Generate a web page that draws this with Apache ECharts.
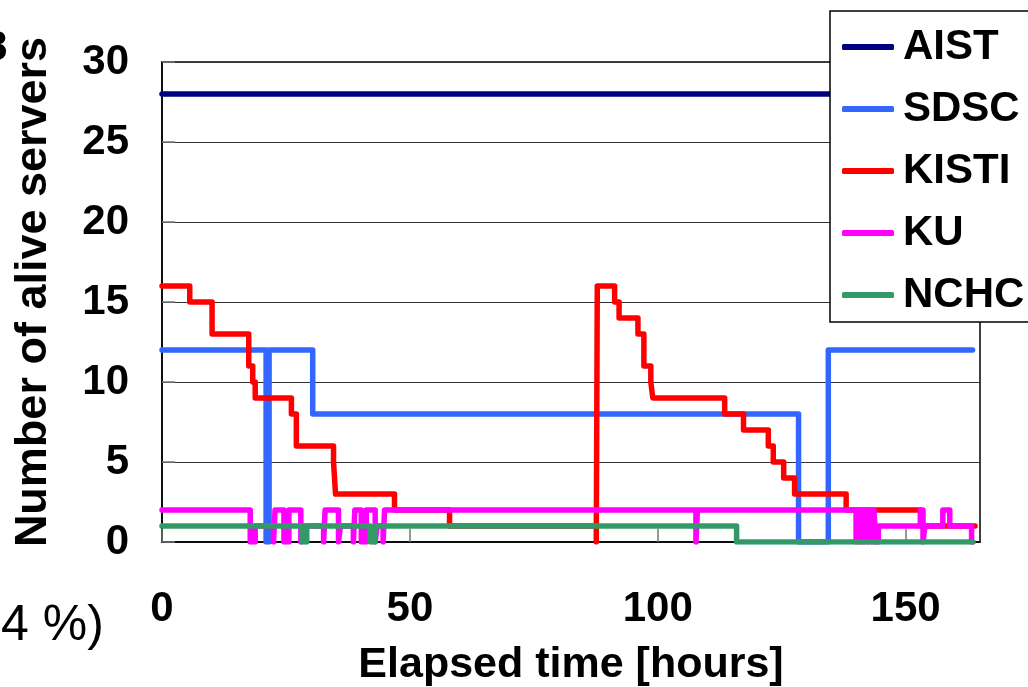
<!DOCTYPE html>
<html>
<head>
<meta charset="utf-8">
<script src="https://cdn.jsdelivr.net/npm/echarts@6/dist/echarts.min.js"></script>
<style>
html,body{margin:0;padding:0;background:#fff;}
#chart{width:1028px;height:687px;}
</style>
</head>
<body>
<div id="chart"></div>
<script>
// [elapsed hours, alive servers] change points (value holds until next point)
const AIST  = [[0,28],[164,28]];
const SDSC  = [[0,12],[21.0,0],[21.6,12],[30.4,8],[128.4,0],[134.4,12],[163.5,12]];
const KISTI = [[0,16],[5.6,15],[10.1,13],[17.5,11],[18.3,10],[18.8,9],[26.1,8],[27.1,6],[34.6,5],[35.0,3],[46.9,2],[58.0,1],[87.6,0],[87.8,16],[91.3,15],[92.2,14],[96.0,13],[97.2,11],[98.6,10],[99.0,9],[113.5,8],[117.3,7],[122.3,6],[123.3,5],[125.4,4],[127.6,3],[138.0,2],[153.0,1],[164.0,1]];
const KU    = [[0,2],[17.8,0],[18.8,1],[22.5,0],[22.8,2],[24.6,0],[25.6,2],[28.0,0],[28.4,1],[32.6,0],[32.9,2],[35.6,0],[36.0,1],[38.6,0],[38.9,2],[40.2,0],[41.2,2],[43.0,0],[43.4,1],[44.6,0],[44.9,2],[107.7,0],[108.0,2],[140.0,0],[140.4,2],[140.8,0],[141.2,2],[141.6,0],[142.0,2],[142.4,0],[142.8,2],[143.2,0],[143.6,2],[144.0,0],[144.5,1],[153.0,2],[153.5,0],[153.9,1],[157.5,2],[158.9,1],[163.3,0],[163.6,0]];
const NCHC  = [[0,1],[28.2,0],[29.2,1],[42.0,0],[43.0,1],[115.9,0],[163.5,0]];

const seriesNames = ['AIST','SDSC','KISTI','KU','NCHC'];
const seriesData = [AIST, SDSC, KISTI, KU, NCHC];
const colors = ['#000080','#3366FF','#FF0000','#FF00FF','#339966'];
const xTicks = [0,50,100,150];
const yTicks = [0,5,10,15,20,25,30];
const yTitle = 'Number of alive servers';
const xTitle = 'Elapsed time [hours]';

const FONT = '"Liberation Sans", Arial, sans-serif';

const chart = echarts.init(document.getElementById('chart'), null, {renderer:'canvas'});
chart.setOption({
  animation: false,
  backgroundColor: '#fff',
  color: colors,
  grid: {left:162, right:48, top:62, bottom:145, outerBoundsMode:'none', containLabel:false,
         show:true, borderColor:'#000', borderWidth:1.5, backgroundColor:'transparent'},
  xAxis: {
    type:'value', min:0, max:165, interval:50,
    name:xTitle, nameLocation:'middle', nameGap:102,
    nameTextStyle:{fontFamily:FONT, fontWeight:'bold', fontSize:43, color:'#000'},
    axisLine:{show:true, lineStyle:{color:'#000', width:1.5}},
    axisTick:{show:true, inside:true, length:13, lineStyle:{color:'#777', width:1.5}},
    axisLabel:{margin:46, fontFamily:FONT, fontWeight:'bold', fontSize:42, color:'#000', showMaxLabel:false,
      formatter: v => xTicks.includes(v) ? String(v) : ''},
    splitLine:{show:false}
  },
  yAxis: {
    type:'value', min:0, max:30, interval:5,
    axisLine:{show:true, lineStyle:{color:'#000', width:1.5}},
    axisTick:{show:true, inside:true, length:13, lineStyle:{color:'#777', width:1.5}},
    axisLabel:{margin:33, fontFamily:FONT, fontWeight:'bold', fontSize:42, color:'#000',
      formatter: v => yTicks.includes(v) ? String(v) : ''},
    splitLine:{show:true, lineStyle:{color:'#333', width:1}}
  },
  legend: {
    left:830, top:11, orient:'vertical',
    data: seriesNames,
    icon:'roundRect',
    backgroundColor:'#fff', borderColor:'#000', borderWidth:1.5,
    padding:[11,60,2,12], itemGap:12,
    itemWidth:52, itemHeight:6,
    textStyle:{fontFamily:FONT, fontWeight:'bold', fontSize:42, color:'#000', lineHeight:50, padding:[0,0,0,4]}
  },
  graphic: [
    {type:'text', x:34, y:292, rotation:Math.PI/2,
     style:{text:yTitle, font:'bold 45px '+FONT, fill:'#000', align:'center', verticalAlign:'middle'}},
    {type:'text', left:-16, top:27, style:{text:'8', font:'bold 42px '+FONT, fill:'#000'}},
    {type:'text', left:1, top:601, style:{text:'4 %)', font:'50px '+FONT, fill:'#000'}}
  ],
  series: seriesNames.map((n,i) => ({
    name:n, type:'line', step:'end', symbol:'none', showSymbol:false,
    data: seriesData[i],
    lineStyle:{width:5.5, color:colors[i], cap:'round', join:'round'},
    itemStyle:{color:colors[i]},
    emphasis:{disabled:true}
  }))
});
</script>
</body>
</html>
